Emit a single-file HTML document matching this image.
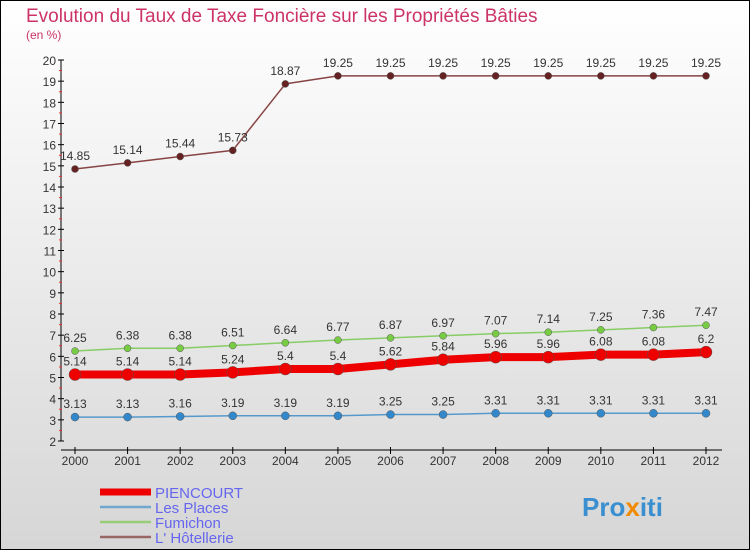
<!DOCTYPE html>
<html><head><meta charset="utf-8"><style>
body{margin:0}
#c{width:750px;height:550px;position:relative;overflow:hidden}
svg text{font-family:"Liberation Sans",sans-serif}
</style></head><body>
<div id="c">
<svg id="s" width="750" height="550" xmlns="http://www.w3.org/2000/svg">
<defs><linearGradient id="bg" x1="0" y1="0" x2="0" y2="1"><stop offset="0" stop-color="#ffffff"/><stop offset="1" stop-color="#d6d6d6"/></linearGradient></defs>
<rect x="0.5" y="0.5" width="749" height="549" fill="url(#bg)" stroke="#000"/>
<text x="26" y="22" font-size="19" fill="#cc3366">Evolution du Taux de Taxe Foncière sur les Propriétés Bâties</text>
<text x="26" y="39" font-size="12" fill="#cc3366">(en %)</text>
<g id="axes"></g><g id="series"></g><g id="legend"></g>
<text x="582" y="516" font-size="26" font-weight="bold" fill="#3a8fd0">Pro<tspan fill="#f08a00">x</tspan>iti</text>
</svg></div>
<script>
const years=[2000,2001,2002,2003,2004,2005,2006,2007,2008,2009,2010,2011,2012];
const yTicks=[2,3,4,5,6,7,8,9,10,11,12,13,14,15,16,17,18,19,20];
const piencourt=[5.14,5.14,5.14,5.24,5.4,5.4,5.62,5.84,5.96,5.96,6.08,6.08,6.2];
const lesPlaces=[3.13,3.13,3.16,3.19,3.19,3.19,3.25,3.25,3.31,3.31,3.31,3.31,3.31];
const fumichon=[6.25,6.38,6.38,6.51,6.64,6.77,6.87,6.97,7.07,7.14,7.25,7.36,7.47];
const hotellerie=[14.85,15.14,15.44,15.73,18.87,19.25,19.25,19.25,19.25,19.25,19.25,19.25,19.25];
const NS="http://www.w3.org/2000/svg";
const xs=i=>75+i*(706-75)/(years.length-1);
const ys=v=>441-(v-2)*(441-60)/18;
function mk(t,a,p){const e=document.createElementNS(NS,t);for(const k in a)e.setAttribute(k,a[k]);p.appendChild(e);return e;}
const ax=document.getElementById('axes');
let yl=mk('line',{x1:61,y1:60,x2:61,y2:441,stroke:'#000'},ax);


yTicks.forEach(v=>{
 mk('line',{x1:58,y1:ys(v),x2:64,y2:ys(v),stroke:'#000'},ax);
 if(v<20) mk('line',{x1:59,y1:ys(v+0.5),x2:62,y2:ys(v+0.5),stroke:'#e33'},ax);
 const t=mk('text',{x:56,y:ys(v)+5,'font-size':12,'text-anchor':'end',fill:'#333'},ax);t.textContent=v;
 
 
});
let xl=mk('line',{x1:61,y1:450,x2:722,y2:450,stroke:'#000'},ax);


years.forEach((y,i)=>{
 mk('line',{x1:xs(i),y1:447,x2:xs(i),y2:454,stroke:'#000'},ax);
 const t=mk('text',{x:xs(i),y:465,'font-size':12,'text-anchor':'middle',fill:'#333'},ax);t.textContent=y;
 
 
});
const sg=document.getElementById('series');
function series(data,color,w,dot,dotc,name){
 const g=mk('g',{},sg);
 
 
 mk('polyline',{points:data.map((v,i)=>xs(i)+','+ys(v)).join(' '),fill:'none',stroke:color,'stroke-width':w,'stroke-linejoin':'round'},g);
 data.forEach((v,i)=>{
  const c=mk('circle',{cx:xs(i),cy:ys(v),r:dot,fill:dotc,stroke:'#555','stroke-width':0.5},g);
  
  
  const t=mk('text',{x:xs(i),y:ys(v)-9,'font-size':12,'text-anchor':'middle',fill:'#333'},g);t.textContent=v;
  
  
 });
}
series(lesPlaces,'#5599cc',1.5,4,'#3388cc','les-places');
series(fumichon,'#88cc66',1.5,3.5,'#77cc44','fumichon');
series(piencourt,'#ee0000',8,6,'#ee0000','piencourt');
series(hotellerie,'#884444',1.5,3.5,'#662222','hotellerie');
const lg=document.getElementById('legend');
[['PIENCOURT','#ee0000',7],['Les Places','#6fa8cc',2.5],['Fumichon','#99cc77',2.5],['L\' Hôtellerie','#996666',2.5]].forEach((e,i)=>{
 const y=492+i*15;
 const l=mk('line',{x1:100,y1:y,x2:151,y2:y,stroke:e[1],'stroke-width':e[2]},lg);
 
 
 const t=mk('text',{x:155,y:y+6,'font-size':15,fill:'#6666ee'},lg);t.textContent=e[0];
 
 
});
</script></body></html>
